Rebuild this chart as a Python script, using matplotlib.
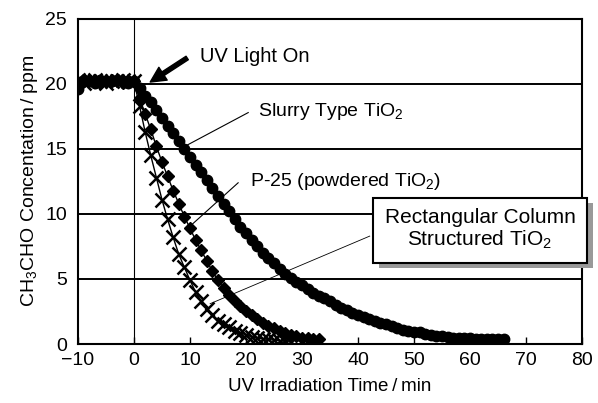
import matplotlib.pyplot as plt
import matplotlib.patheffects as pe

plt.rcParams["font.family"] = "Liberation Sans"
plt.rcParams["mathtext.fontset"] = "custom"
plt.rcParams["mathtext.rm"] = "Liberation Sans"
plt.rcParams["mathtext.it"] = "Liberation Sans:italic"

# dark period before the lamp is switched on (all three samples)
dark_t = [-10, -9, -8, -7, -6, -5, -4, -3, -2, -1]
slurry_dark = [19.6, 20.3, 20.2, 20.1, 20.3, 20.2, 20.2, 20.3, 20.2, 20.1]
p25_dark = [20.1, 20.2, 20.3, 20.2, 20.1, 20.2, 20.3, 20.2, 20.1, 20.2]
rect_dark = [20.3, 20.1, 20.2, 20.3, 20.2, 20.1, 20.2, 20.2, 20.3, 20.2]

# slurry type TiO2
slurry_t = dark_t + list(range(0, 67))
slurry_c = slurry_dark + [
    20.2, 19.7, 19.1, 18.6, 18.0, 17.4, 16.8, 16.2, 15.6, 15.0,
    14.4, 13.8, 13.2, 12.6, 12.0, 11.4, 10.8, 10.2, 9.6, 9.0,
    8.5, 8.0, 7.5, 7.0, 6.6, 6.2, 5.8, 5.4, 5.1, 4.8,
    4.5, 4.2, 3.9, 3.7, 3.5, 3.3, 3.0, 2.8, 2.6, 2.4,
    2.25, 2.1, 1.95, 1.8, 1.65, 1.5, 1.35, 1.2, 1.1, 1.0,
    0.95, 0.9, 0.8, 0.7, 0.65, 0.6, 0.55, 0.5, 0.5, 0.45,
    0.45, 0.4, 0.4, 0.4, 0.35, 0.35, 0.35,
]

# P-25 (powdered TiO2)
p25_t = dark_t + list(range(0, 34))
p25_c = p25_dark + [
    20.2, 18.9, 17.7, 16.5, 15.2, 14.0, 12.9, 11.8, 10.8, 9.8,
    8.9, 8.0, 7.2, 6.4, 5.6, 4.9, 4.3, 3.8, 3.3, 2.9,
    2.5, 2.2, 1.9, 1.6, 1.4, 1.2, 1.0, 0.85, 0.7, 0.6,
    0.5, 0.45, 0.4, 0.35,
]

# rectangular column structured TiO2
rect_t = dark_t + list(range(0, 29))
rect_c = rect_dark + [
    20.2, 18.3, 16.3, 14.5, 12.8, 11.1, 9.6, 8.2, 6.9, 5.9,
    4.9, 4.0, 3.3, 2.7, 2.2, 1.8, 1.5, 1.3, 1.0, 0.85,
    0.7, 0.55, 0.45, 0.4, 0.35, 0.3, 0.25, 0.2, 0.15,
]

xticks = [-10, 0, 10, 20, 30, 40, 50, 60, 70, 80]
yticks = [0, 5, 10, 15, 20, 25]

fig = plt.figure(figsize=(5.98, 4.03), dpi=100)
ax = fig.add_axes([0.1304, 0.1464, 0.8428, 0.8065])

ax.set_xlim(-10, 80)
ax.set_ylim(0, 25)
ax.set_xticks(xticks)
ax.set_yticks(yticks)
ax.tick_params(axis="x", direction="in", length=5, width=1, pad=5.5, labelsize=14)
ax.tick_params(axis="y", length=0, pad=8, labelsize=14)
for s in ax.spines.values():
    s.set_linewidth(1.5)

ax.yaxis.grid(True, color="black", linewidth=1.4)
ax.set_axisbelow(True)
ax.axvline(0, color="black", linewidth=0.8, zorder=1)

ax.plot(slurry_t, slurry_c, color="black", lw=1, marker="o", ms=7.5, zorder=3)
ax.plot(p25_t, p25_c, color="black", lw=1, marker="D", ms=6, zorder=3)
ax.plot(rect_t, rect_c, color="black", lw=1, marker="x", ms=10, mew=1.8, zorder=3)

ax.set_xlabel("UV Irradiation Time\u2009/\u2009min", fontsize=13.5, labelpad=7)
ax.set_ylabel("CH$_3$CHO Concentation\u2009/\u2009ppm", fontsize=14, labelpad=4)

# labels and arrows
ax.annotate("", xy=(2.9, 20.15), xytext=(9.5, 22.0),
            arrowprops=dict(facecolor="black", edgecolor="black", width=3,
                            headwidth=11, headlength=11, shrink=0))
ax.text(11.8, 22.15, "UV Light On", fontsize=14.5, ha="left", va="center")

ax.plot([20.4, 9.5], [17.8, 15.3], color="black", lw=0.8, zorder=4)
ax.text(22.1, 17.85, "Slurry Type TiO$_2$", fontsize=14, ha="left", va="center")

ax.plot([18.6, 9.6], [12.4, 8.9], color="black", lw=0.8, zorder=4)
ax.text(20.7, 12.5, "P-25 (powdered TiO$_2$)", fontsize=14, ha="left", va="center")

ax.plot([42.1, 13.6], [8.3, 3.1], color="black", lw=0.6, zorder=4)
box = ax.text(61.8, 8.8, "Rectangular Column\nStructured TiO$_2$", fontsize=15,
              ha="center", va="center", linespacing=1.1, zorder=6, clip_on=False,
              bbox=dict(boxstyle="square,pad=0.55", facecolor="white",
                        edgecolor="black", linewidth=1.5))
box.get_bbox_patch().set_path_effects(
    [pe.SimplePatchShadow(offset=(4, -4), shadow_rgbFace="#999999", alpha=1), pe.Normal()])

fig.savefig("out.png", dpi=100)
